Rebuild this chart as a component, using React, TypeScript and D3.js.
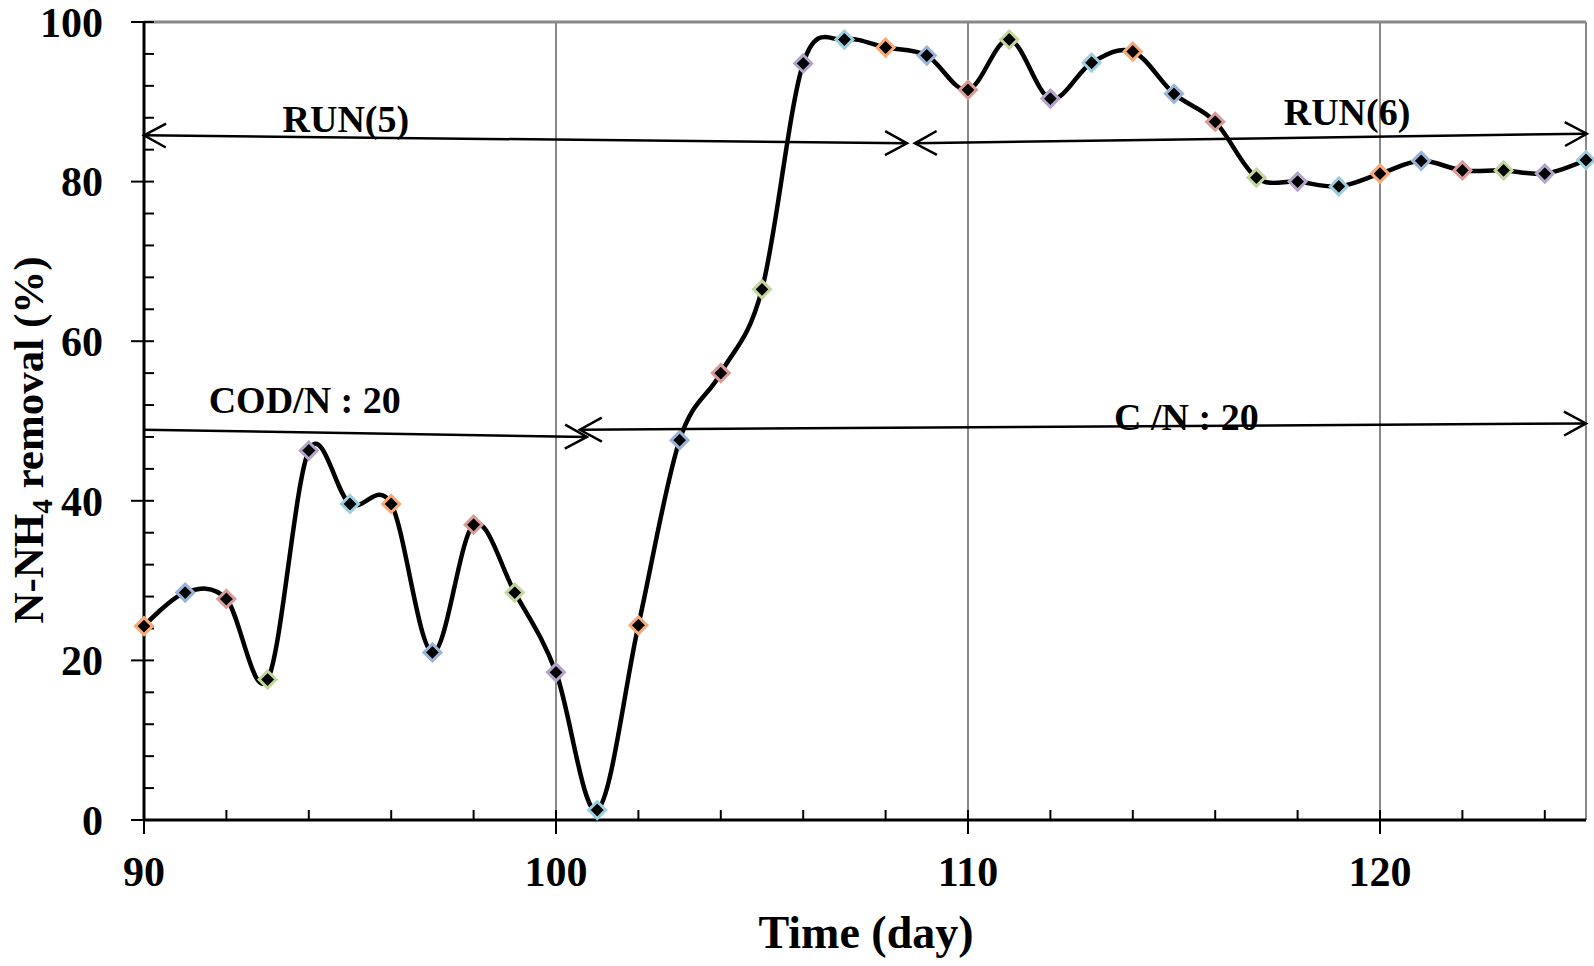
import React, { useEffect } from 'react';
import * as d3 from 'd3';

const days = [90, 91, 92, 93, 94, 95, 96, 97, 98, 99, 100, 101, 102, 103, 104, 105, 106, 107, 108, 109, 110, 111, 112, 113, 114, 115, 116, 117, 118, 119, 120, 121, 122, 123, 124, 125];
const removal = [24.3, 28.5, 27.7, 17.6, 46.3, 39.6, 39.6, 21.0, 37.0, 28.5, 18.5, 1.25, 24.4, 47.6, 56.0, 66.5, 94.8, 97.8, 96.8, 95.8, 91.5, 97.8, 90.4, 94.9, 96.3, 91.0, 87.5, 80.5, 80.0, 79.4, 81.0, 82.6, 81.4, 81.4, 81.0, 82.7];
const markerColors = ['#F7A97A', '#9AB4D8', '#D89C99', '#C2D69E', '#B3A5C9', '#9DCFDF'];

const xMajorTicks = [90, 100, 110, 120];
const xMinorTicks = [92, 94, 96, 98, 102, 104, 106, 108, 112, 114, 116, 118, 122, 124];
const yMajorTicks = [0, 20, 40, 60, 80, 100];
const yMinorTicks = [4, 8, 12, 16, 24, 28, 32, 36, 44, 48, 52, 56, 64, 68, 72, 76, 84, 88, 92, 96];
const gridDays = [100, 110, 120, 125];

// annotation arrows in data coordinates: [x1, y1, x2, y2, headAtStart, headAtEnd]
const arrowLines: [number, number, number, number, boolean, boolean][] = [
  [90, 85.8, 108.52, 84.8, true, true],
  [108.71, 84.8, 125.02, 86.0, true, true],
  [90, 48.9, 100.75, 48.0, false, true],
  [100.58, 48.9, 125, 49.7, true, true],
];
const annotationTexts = ['RUN(5)', 'RUN(6)', 'COD/N : 20', 'C /N : 20'];
const annotationX = [94.9, 119.2, 93.9, 115.3];
const annotationY = [86.2, 87.1, 51.0, 48.9];

const W = 1594;
const H = 966;
const FONT = '"Liberation Serif", "Times New Roman", serif';

export default function App() {
  useEffect(() => {
    document.body.style.margin = '0';
  }, []);

  const x = d3.scaleLinear().domain([90, 125]).range([144, 1586]);
  const y = d3.scaleLinear().domain([0, 100]).range([820, 22]);

  const pts: [number, number][] = days.map((d, i) => [x(d), y(removal[i])]);
  const linePath = d3.line().curve(d3.curveCatmullRom.alpha(0))(pts) || '';

  const diamond = (cx: number, cy: number, r: number) =>
    `M${cx},${cy - r}L${cx + r},${cy}L${cx},${cy + r}L${cx - r},${cy}Z`;

  const arrowHead = (tx: number, ty: number, fx: number, fy: number) => {
    const ang = Math.atan2(ty - fy, tx - fx);
    const len = 25;
    const spread = 0.5;
    const a1x = tx - len * Math.cos(ang - spread);
    const a1y = ty - len * Math.sin(ang - spread);
    const a2x = tx - len * Math.cos(ang + spread);
    const a2y = ty - len * Math.sin(ang + spread);
    return `M${a1x},${a1y}L${tx},${ty}L${a2x},${a2y}`;
  };

  return (
    <svg width={W} height={H} style={{ position: 'absolute', left: 0, top: 0, background: '#fff' }}>
      {/* vertical gridlines */}
      {gridDays.map((d) => (
        <line key={'g' + d} x1={x(d)} x2={x(d)} y1={y(100)} y2={y(0)} stroke="#888" strokeWidth={2} />
      ))}
      {/* top border */}
      <line x1={x(90)} x2={x(125)} y1={y(100)} y2={y(100)} stroke="#888" strokeWidth={3} />

      {/* axes */}
      <line x1={x(90)} x2={x(90)} y1={y(100)} y2={y(0)} stroke="#000" strokeWidth={3} />
      <line x1={x(90) - 1} x2={x(125)} y1={y(0)} y2={y(0)} stroke="#000" strokeWidth={3} />
      {yMajorTicks.map((v) => (
        <line key={'ym' + v} x1={x(90) - 13} x2={x(90) + 10} y1={y(v)} y2={y(v)} stroke="#000" strokeWidth={2} />
      ))}
      {yMinorTicks.map((v) => (
        <line key={'yn' + v} x1={x(90)} x2={x(90) + 10} y1={y(v)} y2={y(v)} stroke="#000" strokeWidth={2} />
      ))}
      {xMajorTicks.map((d) => (
        <line key={'xm' + d} x1={x(d)} x2={x(d)} y1={y(0) - 10} y2={y(0) + 14} stroke="#000" strokeWidth={2} />
      ))}
      {xMinorTicks.map((d) => (
        <line key={'xn' + d} x1={x(d)} x2={x(d)} y1={y(0) - 10} y2={y(0)} stroke="#000" strokeWidth={2} />
      ))}

      {/* tick labels */}
      {yMajorTicks.map((v) => (
        <text key={'yl' + v} x={103} y={y(v)} dy="0.35em" textAnchor="end" fontFamily={FONT} fontWeight="bold" fontSize={42}>
          {v}
        </text>
      ))}
      {xMajorTicks.map((d) => (
        <text key={'xl' + d} x={x(d)} y={886} textAnchor="middle" fontFamily={FONT} fontWeight="bold" fontSize={42}>
          {d}
        </text>
      ))}

      {/* axis titles */}
      <text x={866} y={948} textAnchor="middle" fontFamily={FONT} fontWeight="bold" fontSize={46}>
        Time (day)
      </text>
      <text
        transform={`translate(43, ${440}) rotate(-90)`}
        textAnchor="middle"
        fontFamily={FONT}
        fontWeight="bold"
        fontSize={43}
      >
        N-NH<tspan dy={9} fontSize={29}>4</tspan>
        <tspan dy={-9}> removal (%)</tspan>
      </text>

      {/* data curve */}
      <path d={linePath} fill="none" stroke="#000" strokeWidth={4.5} />
      {pts.map(([px, py], i) => (
        <path
          key={'m' + i}
          d={diamond(px, py, 8.5)}
          fill="#000"
          stroke={markerColors[i % markerColors.length]}
          strokeWidth={3}
        />
      ))}

      {/* annotation arrows */}
      {arrowLines.map(([d1, v1, d2, v2, hs, he], i) => {
        const x1 = x(d1), y1 = y(v1), x2 = x(d2), y2 = y(v2);
        return (
          <g key={'a' + i} stroke="#000" strokeWidth={2.5} fill="none">
            <line x1={x1} y1={y1} x2={x2} y2={y2} />
            {hs && <path d={arrowHead(x1, y1, x2, y2)} />}
            {he && <path d={arrowHead(x2, y2, x1, y1)} />}
          </g>
        );
      })}
      {annotationTexts.map((t, i) => (
        <text
          key={'t' + i}
          x={x(annotationX[i])}
          y={y(annotationY[i])}
          textAnchor="middle"
          fontFamily={FONT}
          fontWeight="bold"
          fontSize={38}
        >
          {t}
        </text>
      ))}
    </svg>
  );
}
